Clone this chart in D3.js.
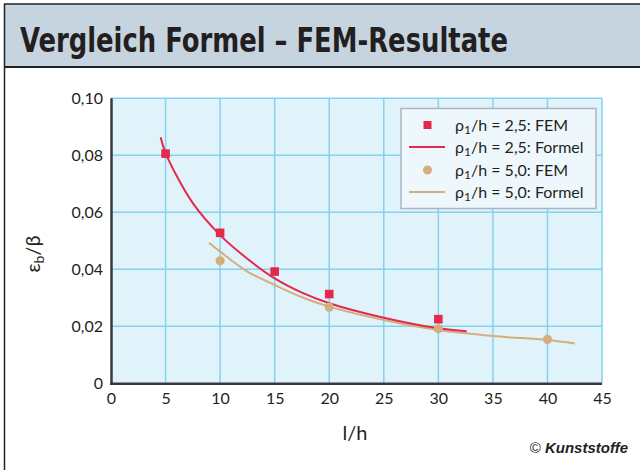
<!DOCTYPE html>
<html><head><meta charset="utf-8">
<script src="https://cdn.jsdelivr.net/npm/d3@7"></script>
<style>body{margin:0;background:#fff}svg{display:block}</style>
</head><body><svg id="c" width="640" height="470"></svg>
<script>
const xTicks = [0,5,10,15,20,25,30,35,40,45];
const yTicks = [0,0.02,0.04,0.06,0.08,0.10];
const yTickLabels = ["0","0,02","0,04","0,06","0,08","0,10"];
const femA = [[5,0.0806],[10,0.0528],[15,0.0392],[20,0.0313],[30,0.0225]];
const formelA = [[4.55,0.0863],[5,0.0808],[7.5,0.0632],[10,0.0520],[12.5,0.0437],[15,0.0368],[17.5,0.0318],[20,0.0281],[25,0.0230],[30,0.0193],[32.6,0.0183]];
const femB = [[10,0.0430],[20,0.0267],[30,0.0191],[40,0.0154]];
const formelB = [[8.98,0.0493],[10,0.0462],[12.5,0.0392],[15,0.0345],[17.5,0.0302],[20,0.0269],[25,0.0222],[30,0.0187],[35,0.0166],[40,0.0152],[42.5,0.0140]];
const legendLabels = ["2,5: FEM","2,5: Formel","5,0: FEM","5,0: Formel"];

const RED = "#e4294b", TAN = "#d3ae7e";
const svg = d3.select("#c");

// frame and title band
svg.append("rect").attr("x",4).attr("y",4).attr("width",640).attr("height",63).attr("fill","#c6d4df");
svg.append("line").attr("x1",4).attr("x2",640).attr("y1",4).attr("y2",4).attr("stroke","#222").attr("stroke-width",1.5);
svg.append("line").attr("x1",4).attr("x2",640).attr("y1",67).attr("y2",67).attr("stroke","#222").attr("stroke-width",2);
svg.append("line").attr("x1",4.5).attr("x2",4.5).attr("y1",4).attr("y2",470).attr("stroke","#222").attr("stroke-width",1.5);
svg.append("text").attr("x",20).attr("y",52).attr("font-family","DejaVu Sans Condensed, DejaVu Sans, sans-serif")
  .attr("font-stretch","condensed").attr("font-weight","bold").attr("font-size",34).attr("fill","#231f20")
  .attr("textLength",488).attr("lengthAdjust","spacingAndGlyphs").text("Vergleich Formel – FEM-Resultate");

const x = d3.scaleLinear().domain([0,45]).range([111,602]);
const y = d3.scaleLinear().domain([0,0.10]).range([383.3,98.3]);

svg.append("rect").attr("x",x(0)).attr("y",y(0.10)).attr("width",x(45)-x(0)).attr("height",y(0)-y(0.10)).attr("fill","#e1f3fa");
const grid = svg.append("g").attr("stroke","#86d1f0").attr("stroke-width",1.5);
xTicks.filter(d=>d>0).forEach(d=>grid.append("line").attr("x1",x(d)).attr("x2",x(d)).attr("y1",y(0)).attr("y2",y(0.10)));
yTicks.filter(d=>d>0).forEach(d=>grid.append("line").attr("x1",x(0)).attr("x2",x(45)).attr("y1",y(d)).attr("y2",y(d)));

// axes
const xAxis = d3.axisBottom(x).tickValues(xTicks).tickSize(0).tickPadding(9).tickFormat(d3.format("d"));
const yAxis = d3.axisLeft(y).tickValues(yTicks).tickSize(0).tickPadding(8).tickFormat((d,i)=>yTickLabels[i]);
const gx = svg.append("g").attr("transform",`translate(0,${y(0)})`).call(xAxis);
const gy = svg.append("g").attr("transform",`translate(${x(0)},0)`).call(yAxis);
[gx,gy].forEach(g=>{
  g.select(".domain").attr("stroke","#3a3a3c").attr("stroke-width",2.5);
  g.selectAll("text").attr("font-family","Lato, Open Sans, sans-serif").attr("font-size",16).attr("fill","#231f20");
});
gx.select(".domain").attr("d",`M${x(0)-1},0.5H${x(45)}`);
gy.select(".domain").attr("d",`M0.5,${y(0)}V${y(0.10)}`);

// labels
svg.append("text").attr("x",355).attr("y",440).attr("text-anchor","middle").attr("font-family","Lato, Open Sans, sans-serif")
  .attr("font-size",20).attr("fill","#231f20").text("l/h");
const yl = svg.append("text").attr("transform","translate(40,254) rotate(-90)").attr("text-anchor","middle")
  .attr("font-family","Lato, Open Sans, sans-serif").attr("font-size",20).attr("fill","#231f20");
yl.append("tspan").text("ε");
yl.append("tspan").attr("font-size",14).attr("dy",4).text("b");
yl.append("tspan").attr("dy",-4).text("/β");

// curves
const line = d3.line().x(d=>x(d[0])).y(d=>y(d[1])).curve(d3.curveCatmullRom.alpha(0.5));
svg.append("path").datum(formelB).attr("d",line).attr("fill","none").attr("stroke",TAN).attr("stroke-width",2);
svg.append("path").datum(formelA).attr("d",line).attr("fill","none").attr("stroke",RED).attr("stroke-width",2);
svg.selectAll("circle.b").data(femB).join("circle").attr("cx",d=>x(d[0])).attr("cy",d=>y(d[1])).attr("r",4.6).attr("fill",TAN);
svg.selectAll("rect.a").data(femA).join("rect").attr("x",d=>x(d[0])-4.3).attr("y",d=>y(d[1])-4.3).attr("width",8.6).attr("height",8.6).attr("fill",RED);

// legend
svg.append("rect").attr("x",401).attr("y",108.5).attr("width",195).attr("height",100).attr("fill","#eef8fc").attr("stroke","#a9b6c0").attr("stroke-width",1.5);
const ly = [125,147,170,192];
legendLabels.forEach((lab,i)=>{
  const cy = ly[i];
  if(i===0) svg.append("rect").attr("x",423.5).attr("y",cy-4).attr("width",8).attr("height",8).attr("fill",RED);
  if(i===2) svg.append("circle").attr("cx",427.5).attr("cy",cy).attr("r",4.5).attr("fill",TAN);
  if(i===1||i===3) svg.append("line").attr("x1",409).attr("x2",445).attr("y1",cy).attr("y2",cy).attr("stroke",i===1?RED:TAN).attr("stroke-width",2);
  const t = svg.append("text").attr("x",455).attr("y",cy+6).attr("font-family","Lato, Open Sans, sans-serif").attr("font-size",16).attr("fill","#231f20");
  t.append("tspan").text("ρ");
  t.append("tspan").attr("font-size",12).attr("dy",3).text("1");
  t.append("tspan").attr("dy",-3).text("/h = " + lab);
});

// footer
const f = svg.append("text").attr("x",628).attr("y",453).attr("text-anchor","end").attr("font-family","Liberation Sans, sans-serif").attr("fill","#231f20");
f.append("tspan").attr("font-size",15).text("© ");
f.append("tspan").attr("font-size",15).attr("font-weight","bold").attr("font-style","italic").text("Kunststoffe");
</script></body></html>
